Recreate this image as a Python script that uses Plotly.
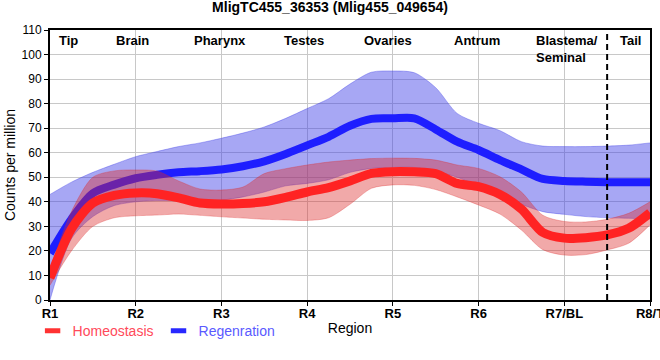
import plotly.graph_objects as go

# x positions along the body (1 = R1 ... 8 = R8/T)
x_pos = [1.0, 1.25, 1.5, 1.75, 2.0, 2.25, 2.5, 2.75, 3.0, 3.25, 3.5, 3.75, 4.0, 4.25,
         4.5, 4.75, 5.0, 5.25, 5.5, 5.75, 6.0, 6.25, 6.5, 6.75, 7.0, 7.25, 7.5, 7.75, 8.0]

regen_mid = [19, 33, 43.5, 47, 49.6, 51, 52, 52.5, 53.2, 54.5, 56.5, 59.5, 63, 66.5,
             71, 73.8, 74, 74, 69.5, 64.5, 61.1, 57, 53.2, 49.3, 48.5, 48.2, 48, 48, 48]
regen_hi = [43, 48, 52, 55.3, 58.4, 60.5, 62.5, 64, 65.9, 68, 70.5, 74, 78, 82,
            88, 92.8, 93.3, 92.6, 86.5, 76, 72, 69, 64.5, 62.7, 62.5, 62.5, 62.7, 63.1, 64]
regen_lo = [0, 25, 34, 38.5, 40, 40.5, 40.5, 40.5, 40.7, 42, 44, 46.5, 47.5, 49,
            52, 53.6, 54, 54, 52.5, 50, 46.5, 43.5, 39, 36, 34.9, 34, 33.5, 33.3, 33]

homeo_mid = [9, 29, 39.5, 42.6, 43.6, 43.3, 41.6, 39.5, 39.1, 39.3, 40, 41.8, 44, 45.8,
             48.5, 51.6, 52.3, 52.2, 51.5, 47.5, 46.2, 43, 37, 27.5, 25.2, 25.4, 26.5, 29.2, 35.5]
homeo_hi = [12, 36, 50, 52.6, 53, 52.5, 48.5, 45.2, 44.8, 46, 51.5, 53.5, 55, 56.2,
            57, 57.6, 57.8, 57.7, 57, 55, 53.6, 50.2, 44, 34.5, 32, 31.8, 32.9, 35.3, 40]
homeo_lo = [6, 20, 30, 33.5, 34.3, 34.6, 35, 34.5, 33.9, 33.4, 32.9, 32.6, 32.4, 33.5,
            39, 45.5, 46.9, 46.7, 45, 42, 38.7, 35, 28.5, 20.5, 18.3, 18.5, 20.4, 23.1, 30.6]

tick_vals = [1, 2, 3, 4, 5, 6, 7, 8]
tick_text = ["R1", "R2", "R3", "R4", "R5", "R6", "R7/BL", "R8/T"]

region_names = ["Tip", "Brain", "Pharynx", "Testes", "Ovaries", "Antrum", "Blastema/<br>Seminal", "Tail"]
region_x = [1.21, 1.965, 2.98, 3.96, 4.94, 5.98, 6.647, 7.77]

FONT = "Liberation Sans, Arial, sans-serif"
BLUE = "rgb(30,30,255)"
RED = "rgb(255,35,35)"
BLUE_FILL = "rgba(60,60,230,0.45)"
RED_FILL = "rgba(220,40,40,0.40)"

fig = go.Figure()
spl = dict(shape="spline", smoothing=0.8)

# Regeneration band + line
fig.add_trace(go.Scatter(x=x_pos, y=regen_hi, mode="lines", showlegend=False, hoverinfo="skip",
                         line=dict(color="rgba(60,60,230,0.6)", width=0.6, **spl)))
fig.add_trace(go.Scatter(x=x_pos, y=regen_lo, mode="lines", fill="tonexty", fillcolor=BLUE_FILL,
                         showlegend=False, hoverinfo="skip",
                         line=dict(color="rgba(60,60,230,0.6)", width=0.6, **spl)))
fig.add_trace(go.Scatter(x=x_pos, y=regen_mid, mode="lines", showlegend=False,
                         line=dict(color=BLUE, width=8, **spl)))

# Homeostasis band + line
fig.add_trace(go.Scatter(x=x_pos, y=homeo_hi, mode="lines", showlegend=False, hoverinfo="skip",
                         line=dict(color="rgba(220,40,40,0.5)", width=0.6, **spl)))
fig.add_trace(go.Scatter(x=x_pos, y=homeo_lo, mode="lines", fill="tonexty", fillcolor=RED_FILL,
                         showlegend=False, hoverinfo="skip",
                         line=dict(color="rgba(220,40,40,0.5)", width=0.6, **spl)))
fig.add_trace(go.Scatter(x=x_pos, y=homeo_mid, mode="lines", showlegend=False,
                         line=dict(color=RED, width=9, **spl)))

# legend entries
fig.add_trace(go.Scatter(x=[None], y=[None], mode="markers",
                         name="<span style='color:#ff4a5a'>Homeostasis</span>",
                         marker=dict(symbol="line-ew", size=11,
                                     line=dict(color="rgb(255,50,50)", width=7))))
fig.add_trace(go.Scatter(x=[None], y=[None], mode="markers",
                         name="<span style='color:#5a5aff'>Regenration</span>",
                         marker=dict(symbol="line-ew", size=11,
                                     line=dict(color="rgb(40,40,255)", width=7))))

# dashed separator
fig.add_shape(type="line", x0=7.5, x1=7.5, y0=0, y1=110, xref="x", yref="y",
              line=dict(color="black", width=2, dash="6px,4px"))

for name, xv in zip(region_names, region_x):
    anchor = "left" if "Blastema" in name else "center"
    fig.add_annotation(x=xv, y=1, xref="x", yref="paper", text="<b>" + name + "</b>",
                       showarrow=False, xanchor=anchor, yanchor="top", yshift=-1, align="left",
                       font=dict(family=FONT, size=13, color="black"))

fig.update_layout(
    width=660, height=360,
    margin=dict(l=50, r=10, t=30, b=60, autoexpand=False),
    plot_bgcolor="white", paper_bgcolor="white",
    title=dict(text="<b>MligTC455_36353 (Mlig455_049654)</b>", x=0.5, xanchor="center",
               y=0.993, yanchor="top", font=dict(family=FONT, size=14, color="black")),
    font=dict(family=FONT, color="black"),
    legend=dict(orientation="h", x=-0.029, xanchor="left", y=-0.056, yanchor="top",
                traceorder="normal",
                font=dict(family=FONT, size=14), itemwidth=30, bgcolor="rgba(0,0,0,0)"),
    xaxis=dict(range=[1, 8], tickvals=tick_vals, ticktext=["<b>" + t + "</b>" for t in tick_text],
               showgrid=True, gridcolor="#c8c8c8", gridwidth=1, zeroline=False,
               showline=True, linecolor="black", linewidth=2, mirror=True,
               ticks="outside", ticklen=4, tickcolor="black", tickwidth=1,
               automargin=True, ticklabeloverflow="allow", ticklabelstandoff=-4,
               tickfont=dict(family=FONT, size=13, color="black"),
               title=dict(text="Region", standoff=4,
                          font=dict(family=FONT, size=14, color="black"))),
    yaxis=dict(range=[0, 110], dtick=10, showgrid=True, gridcolor="#c8c8c8", gridwidth=1,
               zeroline=False, showline=True, linecolor="black", linewidth=2, mirror=True,
               ticks="outside", ticklen=4, tickcolor="black", tickwidth=1,
               automargin=True,
               tickfont=dict(family=FONT, size=12, color="black"),
               title=dict(text="Counts per million", standoff=3,
                          font=dict(family=FONT, size=14, color="black"))),
)

fig.write_html("out.html", config={"displayModeBar": False},
               post_script="document.body.style.margin='0';document.body.style.padding='0';")
